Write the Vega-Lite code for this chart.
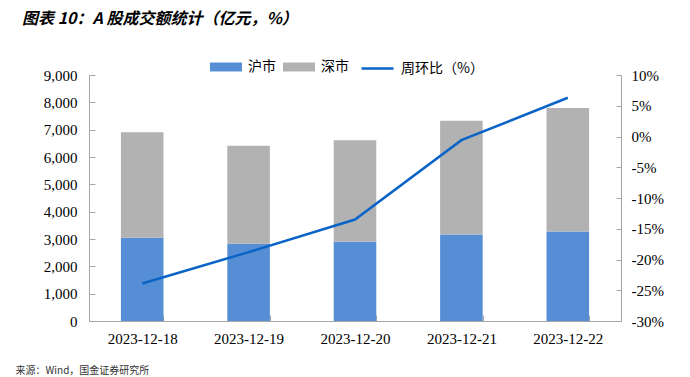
{
  "$schema": "https://vega.github.io/schema/vega-lite/v6.json",
  "width": 532,
  "height": 246,
  "autosize": {"type": "none"},
  "padding": {"left": 89, "top": 75, "right": 69, "bottom": 56},
  "background": "white",
  "title": {
    "text": "图表 10：A 股成交额统计（亿元，%）",
    "anchor": "start",
    "frame": "group",
    "dx": -67,
    "offset": 24,
    "font": "Noto Sans CJK SC",
    "fontSize": 16,
    "fontWeight": "bold",
    "fontStyle": "italic",
    "color": "#000000"
  },
  "datasets": {
    "bars": [
      {"date": "2023-12-18", "market": "沪市", "amount": 3050, "ord": 1},
      {"date": "2023-12-18", "market": "深市", "amount": 3860, "ord": 2},
      {"date": "2023-12-19", "market": "沪市", "amount": 2830, "ord": 1},
      {"date": "2023-12-19", "market": "深市", "amount": 3580, "ord": 2},
      {"date": "2023-12-20", "market": "沪市", "amount": 2900, "ord": 1},
      {"date": "2023-12-20", "market": "深市", "amount": 3710, "ord": 2},
      {"date": "2023-12-21", "market": "沪市", "amount": 3165, "ord": 1},
      {"date": "2023-12-21", "market": "深市", "amount": 4160, "ord": 2},
      {"date": "2023-12-22", "market": "沪市", "amount": 3270, "ord": 1},
      {"date": "2023-12-22", "market": "深市", "amount": 4520, "ord": 2}
    ],
    "line": [
      {"date": "2023-12-18", "series": "周环比（%）", "wow": -23.9},
      {"date": "2023-12-19", "series": "周环比（%）", "wow": -18.8},
      {"date": "2023-12-20", "series": "周环比（%）", "wow": -13.5},
      {"date": "2023-12-21", "series": "周环比（%）", "wow": -0.6},
      {"date": "2023-12-22", "series": "周环比（%）", "wow": 6.3}
    ]
  },
  "encoding": {
    "x": {
      "field": "date",
      "type": "nominal",
      "sort": null,
      "scale": {"paddingInner": 0.6, "paddingOuter": 0.3},
      "axis": {
        "labelAngle": 0,
        "labelFont": "Liberation Serif",
        "labelFontSize": 15,
        "labelColor": "#000000",
        "labelPadding": 16,
        "tickBand": "extent",
        "tickSize": -6,
        "tickColor": "#A6A6A6",
        "domainColor": "#A6A6A6",
        "title": "来源：Wind，国金证券研究所",
        "titleFont": "Noto Sans CJK SC",
        "titleFontSize": 10,
        "titleFontWeight": "normal",
        "titleColor": "#333333",
        "titleAlign": "left",
        "titleBaseline": "middle",
        "titleX": -74,
        "titleY": 49
      }
    }
  },
  "layer": [
    {
      "data": {"name": "bars"},
      "mark": {"type": "bar"},
      "encoding": {
        "y": {
          "field": "amount",
          "type": "quantitative",
          "aggregate": "sum",
          "stack": "zero",
          "scale": {"domain": [0, 9000], "nice": false},
          "axis": {
            "values": [0, 1000, 2000, 3000, 4000, 5000, 6000, 7000, 8000, 9000],
            "format": ",d",
            "grid": false,
            "title": null,
            "labelFont": "Liberation Serif",
            "labelFontSize": 15,
            "labelColor": "#000000",
            "tickSize": -6,
            "labelPadding": 18,
            "tickColor": "#A6A6A6",
            "domainColor": "#A6A6A6"
          }
        },
        "color": {
          "field": "market",
          "type": "nominal",
          "scale": {"domain": ["沪市", "深市"], "range": ["#558ED5", "#B2B2B2"]},
          "legend": {
            "title": null,
            "orient": "none",
            "legendX": 121,
            "legendY": -24,
            "direction": "horizontal",
            "symbolType": "M-1,-0.28h2v0.56h-2z",
            "symbolSize": 1024,
            "symbolStrokeWidth": 0,
            "labelFont": "Noto Sans CJK SC",
            "labelFontSize": 14,
            "labelColor": "#000000",
            "labelOffset": 6,
            "columnPadding": 7
          }
        },
        "order": {"field": "ord", "type": "quantitative"}
      }
    },
    {
      "data": {"name": "line"},
      "mark": {"type": "line", "strokeWidth": 2.5},
      "encoding": {
        "y": {
          "field": "wow",
          "type": "quantitative",
          "scale": {"domain": [-30, 10], "nice": false},
          "axis": {
            "orient": "right",
            "values": [-30, -25, -20, -15, -10, -5, 0, 5, 10],
            "labelExpr": "(datum.value < 0 ? '-' : '') + abs(datum.value) + '%'",
            "grid": false,
            "title": null,
            "labelFont": "Liberation Serif",
            "labelFontSize": 15,
            "labelColor": "#000000",
            "tickSize": -5,
            "labelPadding": 15,
            "tickColor": "#A6A6A6",
            "domainColor": "#A6A6A6"
          }
        },
        "stroke": {
          "field": "series",
          "type": "nominal",
          "scale": {"domain": ["周环比（%）"], "range": ["#0A64C8"]},
          "legend": {
            "title": null,
            "orient": "none",
            "legendX": 271,
            "legendY": -24,
            "direction": "horizontal",
            "symbolType": "stroke",
            "symbolSize": 1024,
            "symbolStrokeWidth": 2.5,
            "labelFont": "Noto Sans CJK SC",
            "labelFontSize": 14,
            "labelColor": "#000000",
            "labelOffset": 6
          }
        }
      }
    }
  ],
  "resolve": {"scale": {"y": "independent", "color": "independent", "stroke": "independent"}},
  "config": {
    "view": {"stroke": null},
    "axis": {"labelFlush": false, "labelOverlap": false}
  }
}
